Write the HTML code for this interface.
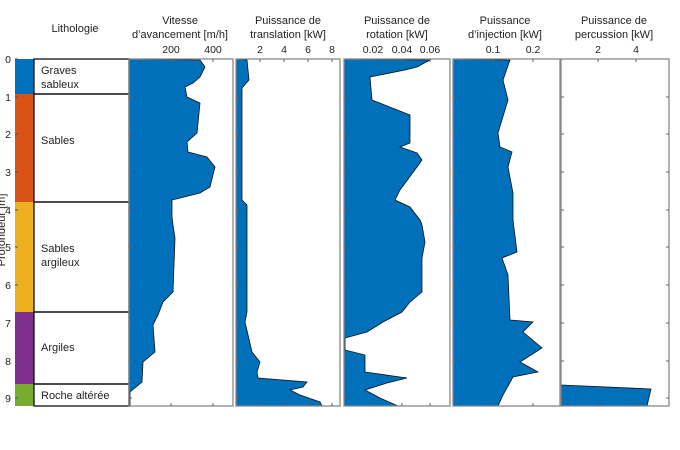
<!DOCTYPE html>
<html><head><meta charset="utf-8"><style>body{margin:0;background:#fff}svg{display:block}text{font-family:"Liberation Sans",sans-serif;fill:#222}</style></head><body>
<svg width="680" height="450" viewBox="0 0 680 450" xmlns="http://www.w3.org/2000/svg">
<g font-size="11" text-anchor="middle">
<text x="75" y="32">Lithologie</text>
<text x="180" y="24">Vitesse</text><text x="180" y="38">d’avancement [m/h]</text>
<text x="288" y="24">Puissance de</text><text x="288" y="38">translation [kW]</text>
<text x="397" y="24">Puissance de</text><text x="397" y="38">rotation [kW]</text>
<text x="505" y="24">Puissance</text><text x="505" y="38">d’injection [kW]</text>
<text x="614" y="24">Puissance de</text><text x="614" y="38">percussion [kW]</text>
</g>
<g font-size="10.5" text-anchor="middle" fill="#333">
<text x="171" y="53">200</text><text x="213" y="53">400</text>
<text x="260" y="53">2</text><text x="284" y="53">4</text><text x="308" y="53">6</text><text x="332" y="53">8</text>
<text x="373" y="53">0.02</text><text x="402" y="53">0.04</text><text x="430" y="53">0.06</text>
<text x="493" y="53">0.1</text><text x="533" y="53">0.2</text>
<text x="598" y="53">2</text><text x="636" y="53">4</text>
</g>
<g font-size="10.5" text-anchor="end">
<text x="11" y="63">0</text><text x="11" y="101">1</text><text x="11" y="138">2</text><text x="11" y="176">3</text><text x="11" y="214">4</text><text x="11" y="251">5</text><text x="11" y="289">6</text><text x="11" y="327">7</text><text x="11" y="365">8</text><text x="11" y="402">9</text>
</g>
<text x="0" y="0" font-size="11" text-anchor="middle" transform="translate(5,230) rotate(-90)">Profondeur [m]</text>
<rect x="15" y="59" width="19" height="35" fill="#0072BD"/>
<rect x="15" y="94" width="19" height="108" fill="#D95319"/>
<rect x="15" y="202" width="19" height="110" fill="#EDB120"/>
<rect x="15" y="312" width="19" height="72" fill="#7E2F8E"/>
<rect x="15" y="384" width="19" height="22" fill="#77AC30"/>
<g fill="none" stroke="#111" stroke-width="1.3">
<rect x="34" y="59" width="95" height="35"/><rect x="34" y="94" width="95" height="108"/><rect x="34" y="202" width="95" height="110"/><rect x="34" y="312" width="95" height="72"/><rect x="34" y="384" width="95" height="22"/>
</g>
<g font-size="11">
<text x="41" y="74">Graves</text><text x="41" y="88">sableux</text>
<text x="41" y="144">Sables</text>
<text x="41" y="252">Sables</text><text x="41" y="266">argileux</text>
<text x="41" y="351">Argiles</text>
<text x="41" y="399">Roche altérée</text>
</g>
<g stroke="#555" stroke-width="1">
<path d="M15 59h3M15 97h3M15 134h3M15 172h3M15 210h3M15 247h3M15 285h3M15 323h3M15 361h3M15 398h3"/>
</g>
<g fill="#0070BA" stroke="#111" stroke-width="0.8">
<polygon points="129,59 200,60 205,67 200,77 193,83 185,87 187,97 200,103 197,133 187,142 188,152 207,157 215,167 210,187 200,193 172,200 172,217 173,225 175,238 173,292 163,302 158,315 153,325 155,352 143,362 142,382 130,392 130,406 129,406"/>
<polygon points="236,59 247,60 249,80 242,88 242,200 247,205 247,312 245,322 252,352 260,362 257,372 258,378 307,382 303,387 290,390 300,395 320,402 322,406 236,406"/>
<polygon points="344,59 430,60 417,67 405,70 370,77 372,100 410,115 410,143 400,147 417,153 422,160 417,167 400,190 395,200 410,207 420,220 422,225 425,242 422,258 422,292 410,302 402,312 383,322 367,332 345,338 345,350 365,355 365,372 407,378 387,383 365,390 380,398 398,406 344,406"/>
<polygon points="453,59 510,60 503,80 508,100 498,133 500,147 512,152 508,167 513,193 513,220 517,252 502,258 508,275 510,320 533,322 523,332 542,348 520,362 538,372 513,377 503,395 498,406 453,406"/>
<polygon points="561,385 651,389 647,406 561,406"/>
</g>
<g fill="none" stroke="#888" stroke-width="1.3">
<rect x="129" y="59" width="104" height="347"/>
<rect x="236" y="59" width="104" height="347"/>
<rect x="344" y="59" width="106" height="347"/>
<rect x="453" y="59" width="107" height="347"/>
<rect x="561" y="59" width="108" height="347"/>
</g>
<g stroke="#666" stroke-width="1">
<path d="M171 59v3M213 59v3M260 59v3M284 59v3M308 59v3M332 59v3M373 59v3M402 59v3M430 59v3M493 59v3M533 59v3M598 59v3M636 59v3"/>
<path d="M171 406v-3M213 406v-3M260 406v-3M284 406v-3M308 406v-3M332 406v-3M373 406v-3M402 406v-3M430 406v-3M493 406v-3M533 406v-3M598 406v-3M636 406v-3"/>
<path d="M129 97h3M129 134h3M129 172h3M129 210h3M129 247h3M129 285h3M129 323h3M129 361h3M129 398h3 M236 97h3M236 134h3M236 172h3M236 210h3M236 247h3M236 285h3M236 323h3M236 361h3M236 398h3 M344 97h3M344 134h3M344 172h3M344 210h3M344 247h3M344 285h3M344 323h3M344 361h3M344 398h3 M453 97h3M453 134h3M453 172h3M453 210h3M453 247h3M453 285h3M453 323h3M453 361h3M453 398h3 M561 97h3M561 134h3M561 172h3M561 210h3M561 247h3M561 285h3M561 323h3M561 361h3M561 398h3 M669 97h-3M669 134h-3M669 172h-3M669 210h-3M669 247h-3M669 285h-3M669 323h-3M669 361h-3M669 398h-3"/>
</g>
</svg>
</body></html>
